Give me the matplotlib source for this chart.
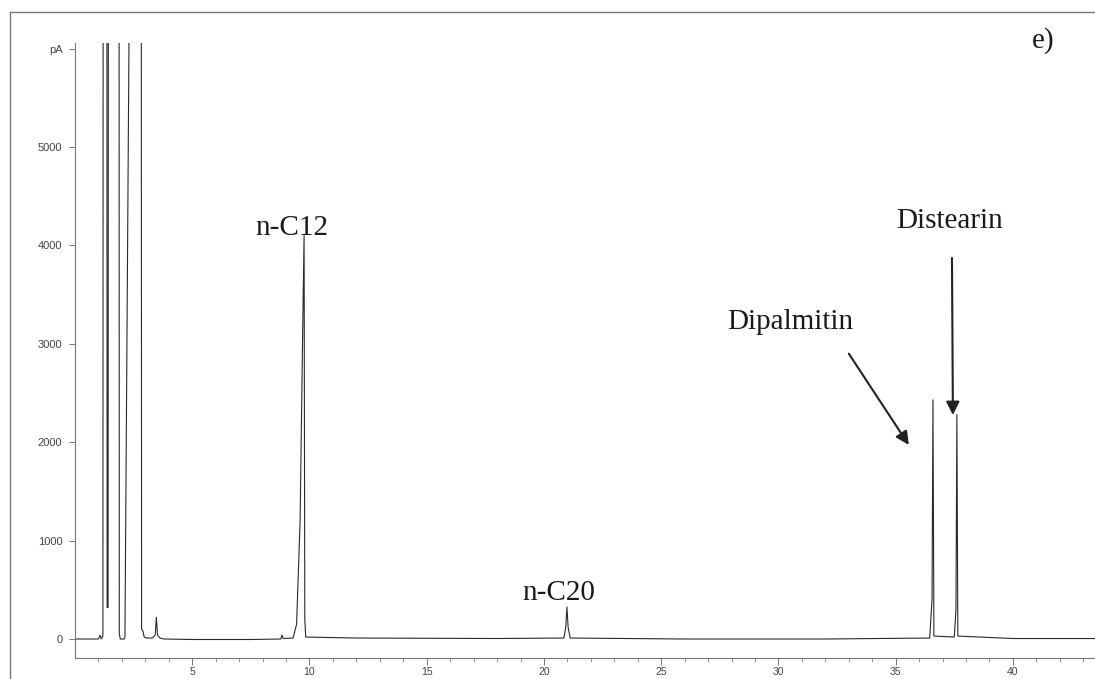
import matplotlib
matplotlib.use("Agg")
import matplotlib.pyplot as plt
from matplotlib.lines import Line2D

# chromatogram trace (retention time in min, signal in pA)
rt = [0.00, 1.00, 1.07, 1.12, 1.19, 1.22, 1.34, 1.37, 1.41, 1.45, 1.86, 1.89, 1.93,
      2.10, 2.13, 2.30, 2.33, 2.80, 2.84, 2.90, 2.95, 3.05, 3.30, 3.42, 3.47, 3.52,
      3.62, 3.80, 5.00, 7.50, 8.78, 8.83, 8.88, 9.30, 9.45, 9.60, 9.72, 9.77, 9.80,
      9.84, 12.0, 18.0, 20.85, 20.93, 20.98, 21.03, 21.12, 26.0, 32.0, 36.45, 36.55,
      36.59, 36.63, 37.50, 37.57, 37.61, 37.65, 40.0, 43.5]
signal = [0, 0, 40, 0, 30, 20000, 20000, 320, 320, 20000, 20000, 60, 0,
          0, 20, 6000, 20000, 20000, 100, 80, 20, 10, 10, 40, 220, 40,
          10, 0, -5, -5, 0, 40, 5, 10, 150, 1200, 3300, 4100, 200,
          20, 10, 5, 10, 120, 325, 120, 10, 0, 0, 10, 400,
          2430, 30, 20, 300, 2280, 30, 5, 5]

yticks = [0, 1000, 2000, 3000, 4000, 5000, 6000]
ytick_labels = ["0", "1000", "2000", "3000", "4000", "5000", "pA"]
xticks = [5, 10, 15, 20, 25, 30, 35, 40]

W, H = 1095, 679
fig = plt.figure(figsize=(W / 100, H / 100), dpi=100)
ax = fig.add_axes([75 / W, 21 / H, 1 - 75 / W, (658 - 43) / H])

ax.plot(rt, signal, color="#2a2a2a", lw=0.8)
ax.set_xlim(0, 43.5)
ax.set_ylim(-193, 6057)

ax.spines["top"].set_visible(False)
ax.spines["right"].set_visible(False)
for s in ("left", "bottom"):
    ax.spines[s].set_color("#777777")
    ax.spines[s].set_linewidth(0.8)

ax.set_yticks(yticks)
ax.set_yticklabels(ytick_labels)
ax.set_xticks(xticks)
ax.set_xticks(range(1, 44), minor=True)
ax.tick_params(axis="y", length=4, width=0.7, color="#777777", pad=5,
               labelsize=8, labelcolor="#444444")
ax.tick_params(axis="x", which="major", length=5, width=0.7, color="#777777",
               pad=1.5, labelsize=7.5, labelcolor="#444444")
ax.tick_params(axis="x", which="minor", length=3, width=0.6, color="#888888")
for lab in ax.get_xticklabels() + ax.get_yticklabels():
    lab.set_family("Liberation Sans")

serif = dict(family="Liberation Serif", color="#1a1a1a", fontsize=21)
ax.text(9.25, 4110, "n-C12", ha="center", va="baseline", **serif)
ax.text(20.64, 396, "n-C20", ha="center", va="baseline", **serif)
ax.text(37.31, 4177, "Distearin", ha="center", va="baseline", **serif)
ax.text(30.5, 3150, "Dipalmitin", ha="center", va="baseline", **serif)
ax.text(41.3, 6010, "e)", ha="center", va="baseline", clip_on=False, **serif)

arrow = dict(arrowstyle="-|>", color="#222222", lw=1.5, mutation_scale=20,
             shrinkA=0, shrinkB=0)
ax.annotate("", xy=(35.56, 1972), xytext=(33.0, 2900), arrowprops=arrow)
ax.annotate("", xy=(37.44, 2276), xytext=(37.4, 3872), arrowprops=arrow)

# border of the scanned page
fig.add_artist(Line2D([10 / W, 10 / W], [0, 1 - 12 / H], color="#777777", lw=1))
fig.add_artist(Line2D([10 / W, 1], [1 - 12 / H, 1 - 12 / H], color="#777777", lw=1))

fig.savefig("out.png", dpi=100)
